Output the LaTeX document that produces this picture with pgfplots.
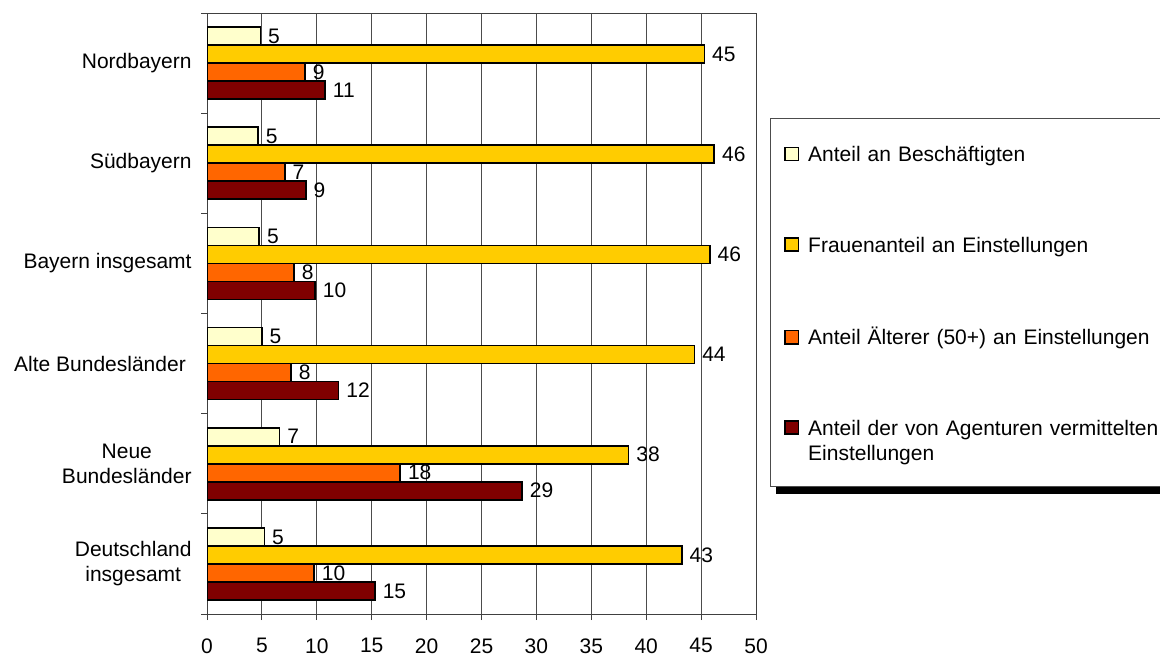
\documentclass[border=0pt]{standalone}
\usepackage{fontspec}
\setmainfont{Liberation Sans}
\usepackage{pgfplots}
\pgfplotsset{compat=1.18}

\definecolor{cream}{HTML}{FFFFCC}
\definecolor{gold}{HTML}{FFCC00}
\definecolor{orangeB}{HTML}{FF6600}
\definecolor{maroon}{HTML}{800000}

\begin{document}
\fontsize{10.5}{12.6}\selectfont
\begin{tikzpicture}
\path[use as bounding box, clip] (0,0) rectangle (580pt,-327.5pt);
\begin{axis}[
  at={(103.5pt,-307pt)}, anchor=south west,
  width=274.5pt, height=300.5pt, scale only axis,
  /pgf/number format/assume math mode=true,
  xbar=0pt, bar width=9pt,
  xmin=0, xmax=50, xtick={0,5,...,50},
  ymin=-0.5, ymax=5.5,
  ytick={0,...,5},
  yticklabels={Deutschland\\insgesamt, Neue\\Bundesländer,
    Alte Bundesländer\hspace*{2.9pt}, Bayern insgesamt, Südbayern, Nordbayern},
  yticklabel style={align=center, inner xsep=0pt, xshift=-4.5pt},
  xticklabel style={yshift=-5.5pt},
  minor ytick={-0.5,0.5,...,5.5},
  major y tick style={draw=none},
  tick align=outside, tick pos=left,
  major tick length=3pt, minor tick length=3pt,
  tick style={black!75, line width=0.5pt},
  axis line style={black!75, line width=0.5pt},
  xmajorgrids, grid style={black!70, line width=0.45pt},
  every axis plot/.append style={draw=black, line width=0.8pt},
  nodes near coords={\pgfmathprintnumber[fixed,precision=0]{\pgfplotspointmeta}},
  legend image code/.code={\draw[#1, line width=0.8pt] (0pt,0.5pt) rectangle (6.6pt,7.1pt);},
  reverse legend,
  legend style={
    name=leg,
    at={(1.0273,0.8253)}, anchor=north west,
    draw=none, fill=none,
    inner xsep=6.5pt, inner ysep=12pt,
    row sep=32pt, column sep=2.5pt,
    cells={anchor=base west, align=left, inner sep=0pt, text width=185pt},
  },
]
% bars per region in percent, plotted bottom-up within each group
\addplot[fill=maroon] coordinates {(15.3,0) (28.7,1) (11.98,2) (9.85,3) (9.0,4) (10.76,5)};
\addplot[fill=orangeB] coordinates {(9.75,0) (17.6,1) (7.66,2) (7.93,3) (7.08,4) (8.94,5)};
\addplot[fill=gold] coordinates {(43.25,0) (38.4,1) (44.4,2) (45.8,3) (46.2,4) (45.3,5)};
\addplot[fill=cream] coordinates {(5.23,0) (6.61,1) (4.99,2) (4.76,3) (4.66,4) (4.86,5)};
\legend{Anteil der von Agenturen vermittelten\\Einstellungen,
  Anteil Älterer (50+) an Einstellungen,
  Frauenanteil an Einstellungen,
  Anteil an Beschäftigten}
\end{axis}
% legend frame with a solid drop shadow
\fill[black] ([xshift=2.5pt,yshift=-10pt]leg.south west) rectangle ([xshift=2.5pt,yshift=-13.5pt]leg.south east);
\fill[black] ([yshift=-10pt]leg.south east) rectangle ([xshift=2.5pt,yshift=-3.5pt]leg.north east);
\draw[black!70, line width=0.5pt] (leg.north west) rectangle ([yshift=-10pt]leg.south east);
\end{tikzpicture}
\end{document}
